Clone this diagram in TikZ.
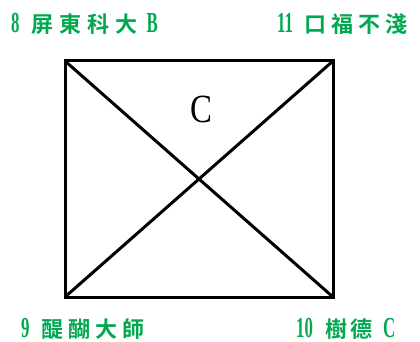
\documentclass[tikz,border=0pt]{standalone}
\usepackage{fontspec}
\setmainfont{Liberation Serif}
\newfontfamily\cjk{Noto Sans CJK TC}[BoldFont={* Bold}]
\definecolor{lblgreen}{RGB}{0,168,80}
\newcommand{\lat}[1]{{\bfseries\fontsize{29}{29}\selectfont\scalebox{0.58}[1]{#1}}}
\newcommand{\cj}[1]{{\cjk\bfseries\fontsize{22}{22}\selectfont #1}}
\tikzset{
  lbl/.style={inner sep=0pt, anchor=base west, text=lblgreen},
  edge/.style={line width=3pt, black}
}
\begin{document}
\begin{tikzpicture}[x=1pt,y=-1pt]
\useasboundingbox (0,0) rectangle (420,342);
\coordinate (tl) at (65,61);
\coordinate (tr) at (333,61);
\coordinate (bl) at (65,297);
\coordinate (br) at (333,297);
\draw[edge] (tl) rectangle (br);
\draw[edge] (tl) -- (br);
\draw[edge] (tr) -- (bl);
\node[inner sep=0pt, anchor=base] (c) at (201,123) {{\fontsize{40}{40}\selectfont\scalebox{0.82}[1]{C}}};
\node[lbl] (n8) at (11,33) {\lat{8}\hspace{12pt}\cj{屏}\hspace{6pt}\cj{東}\hspace{6pt}\cj{科}\hspace{6pt}\cj{大}\hspace{9pt}\lat{B}};
\node[lbl] (n11) at (277,33) {\lat{11}\hspace{11pt}\cj{口}\hspace{5pt}\cj{福}\hspace{5pt}\cj{不}\hspace{5pt}\cj{淺}};
\node[lbl] (n9) at (21,337) {\lat{9}\hspace{12pt}\cj{醍}\hspace{5pt}\cj{醐}\hspace{5pt}\cj{大}\hspace{5pt}\cj{師}};
\node[lbl] (n10) at (296,337) {\lat{10}\hspace{12pt}\cj{樹}\hspace{3pt}\cj{德}\hspace{11pt}\lat{C}};
\end{tikzpicture}
\end{document}
